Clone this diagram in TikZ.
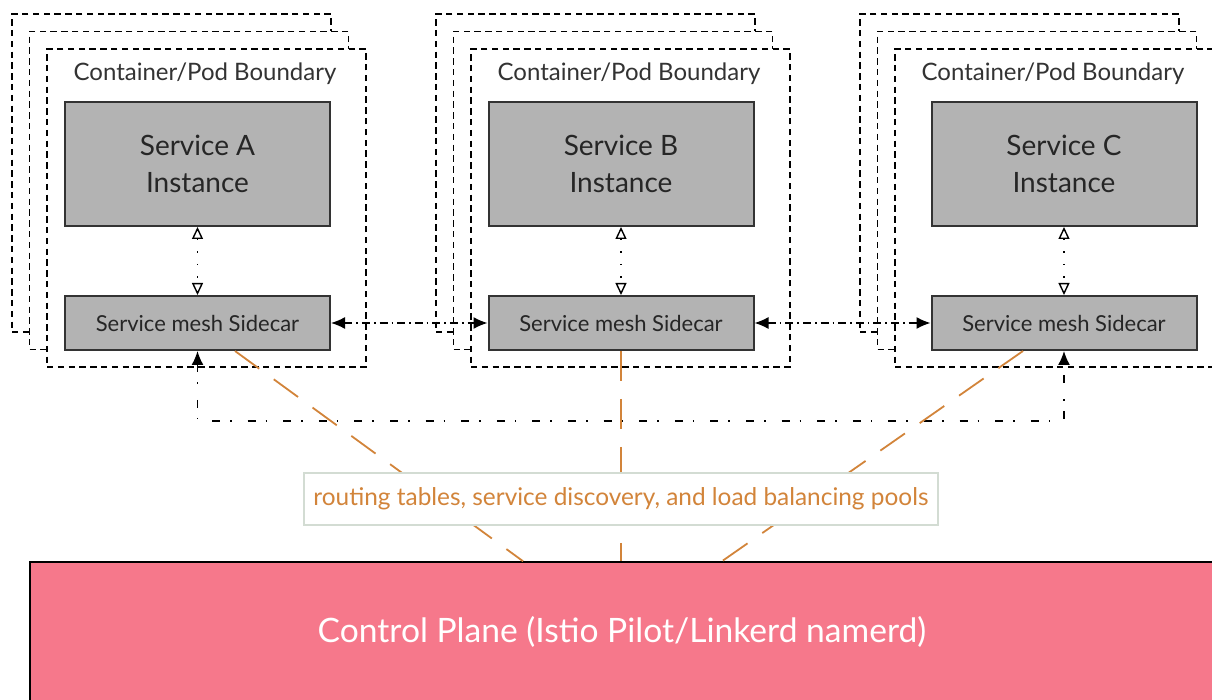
\documentclass[tikz,border=0pt]{standalone}
\usepackage{fontspec}
\setmainfont{Lato}
\usepackage{tikz}
\usetikzlibrary{arrows.meta,calc}

\definecolor{boxgray}{HTML}{B3B3B3}
\definecolor{feedorange}{HTML}{D2843A}
\definecolor{planepink}{HTML}{F6788B}
\definecolor{labelframe}{HTML}{D3DCD3}

\tikzset{
    podline/.style={draw=black, fill=white, line width=0.7pt, dash pattern=on 3.2pt off 2.2pt,
        minimum width=159.5pt, minimum height=159pt},
    podtitle/.style={text=black!80, font=\fontsize{12}{14}\selectfont},
    service/.style={draw=black!80, fill=boxgray, line width=1pt, minimum width=132.5pt,
        align=center, text=black!85},
    innerlink/.style={line width=0.7pt, dash pattern=on 0.8pt off 5.5pt,
        {Triangle[open,length=6pt,width=5.5pt]}-{Triangle[open,length=6pt,width=5.5pt]}},
    meshlink/.style={line width=0.7pt, dash pattern=on 4pt off 2pt on 0.8pt off 2pt,
        {Latex[length=7pt,width=6pt]}-{Latex[length=7pt,width=6pt]}},
    loopback/.style={line width=0.7pt, dash pattern=on 4pt off 5pt on 0.8pt off 8pt,
        {Latex[length=7pt,width=6pt]}-{Latex[length=7pt,width=6pt]}},
    feed/.style={draw=feedorange, line width=0.9pt, dash pattern=on 15pt off 9pt}
}

\begin{document}
\begin{tikzpicture}[x=0.5pt, y=-0.5pt]
    \useasboundingbox (0,0) rectangle (1212,700);
    \clip (0,0) rectangle (1212,700);

    % pods, two copies stacked behind each one
    \foreach \n/\px/\sx in {A/206.5/197.5, B/630.5/621, C/1054.5/1064}{
        \foreach \k in {2,1}
            \node[podline] at (\px-17.5*\k, 208-17.5*\k) {};
        \node[podline] (pod\n) at (\px,208) {};
        \node[podtitle] (title\n) at (\px-1.5,74) {Container/Pod Boundary};
        \node[service, minimum height=62pt, font=\fontsize{14}{18.5}\selectfont]
            (svc\n) at (\sx,164) {Service \n\\Instance};
        \node[service, minimum height=27pt, font=\fontsize{11}{13}\selectfont]
            (side\n) at (\sx,323) {Service mesh Sidecar};
        \draw[innerlink] (svc\n) -- (side\n);
    }

    \draw[meshlink] (sideA.east) -- (sideB.west);
    \draw[meshlink] (sideB.east) -- (sideC.west);
    \draw[loopback] (sideA.south) -- ++(0,70) -| (sideC.south);

    % control plane and its feeds
    \node[draw=black, line width=0.8pt, fill=planepink, text=white,
        minimum width=592pt, minimum height=70pt, font=\fontsize{16.8}{20}\selectfont]
        (plane) at (622,632) {Control Plane (Istio Pilot/Linkerd namerd)};

    \draw[feed] ($(sideA.south)+(37.5,0)$) -- ($(plane.north)+(-99,0)$);
    \draw[feed] (sideB.south) -- (sideB.south |- plane.north);
    \draw[feed] ($(sideC.south)+(-41,0)$) -- ($(plane.north)+(100,0)$);

    \node[draw=labelframe, fill=white, line width=0.6pt, text=feedorange,
        minimum width=317pt, minimum height=26pt, font=\fontsize{12.2}{14}\selectfont]
        (tables) at (621,499) {routing tables, service discovery, and load balancing pools};
\end{tikzpicture}
\end{document}
